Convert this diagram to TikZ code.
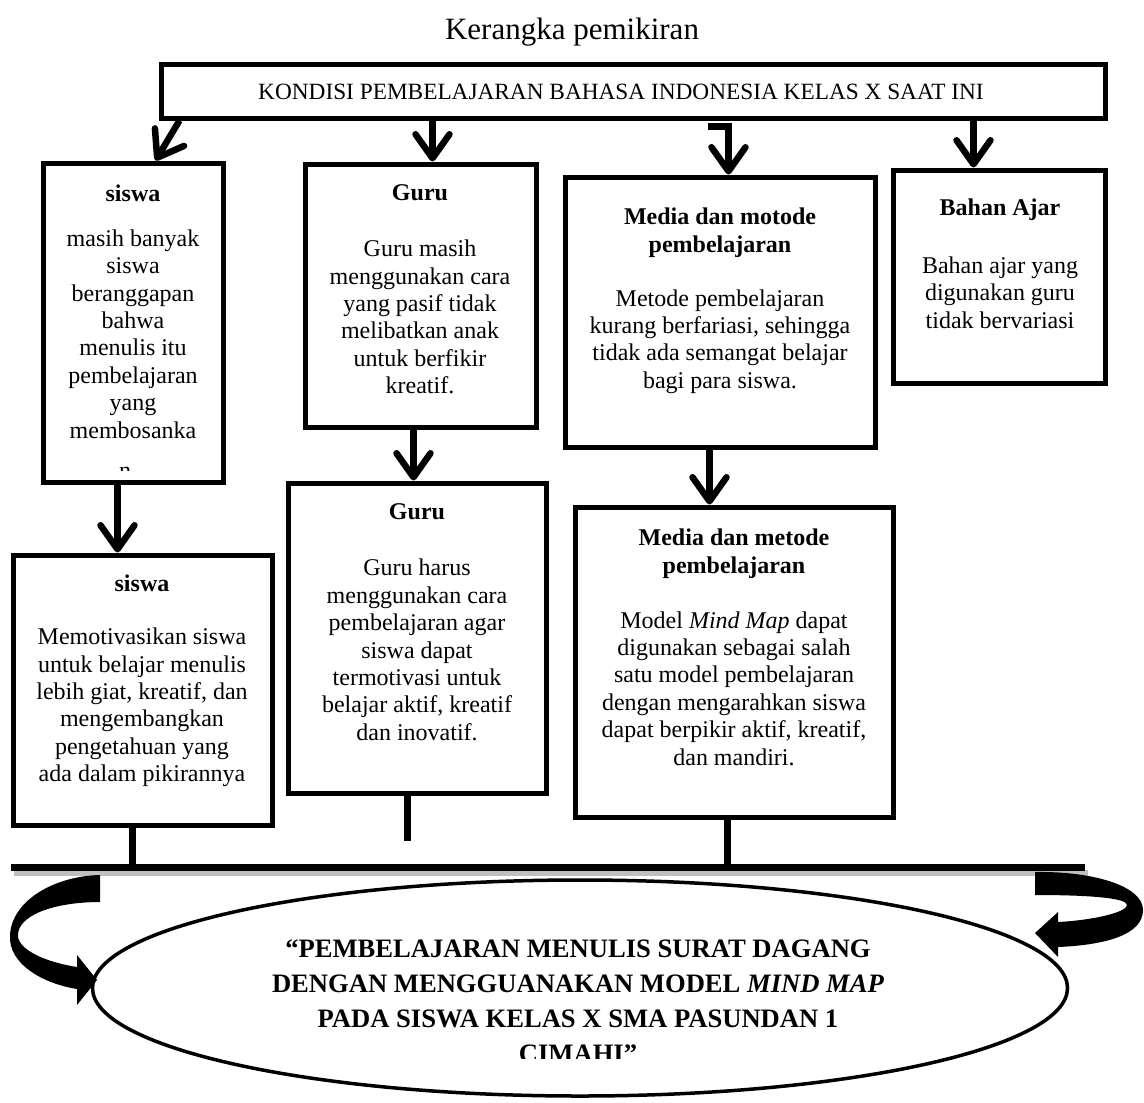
\documentclass[tikz,border=0pt]{standalone}
\usepackage{fontspec}
\setmainfont{Liberation Serif}
\usetikzlibrary{arrows.meta,fit,shapes.geometric}
\begin{document}
\begin{tikzpicture}[x=0.5pt,y=-0.5pt,
  box/.style={draw,line width=2.5pt,inner sep=0pt,rectangle},
  body/.style={align=center,inner sep=0pt,font=\fontsize{12}{13.7}\selectfont},
  head/.style={align=center,inner sep=0pt,font=\fontsize{12}{14.2}\selectfont\bfseries},
  arr/.style={line width=3.25pt,-{Straight Barb[length=12pt,width=17pt,round]}},
  stub/.style={line width=3.5pt},
  barline/.style={line width=3.5pt},
  shadowline/.style={line width=3pt,black!25},
  curved/.style={fill=black},
]
\useasboundingbox (0,0) rectangle (1144,1102);

% title
\node[font=\fontsize{15.5}{18}\selectfont] (title) at (572,32) {Kerangka pemikiran};

% top box
\node[box,fit={(161,65) (1105,118)}] (T) {};
\node[font=\fontsize{11.65}{14}\selectfont] (Tt) at (621,92) {KONDISI PEMBELAJARAN BAHASA INDONESIA KELAS X SAAT INI};

% first row boxes
\node[box,fit={(43,163) (223,482)}] (s1) {};
\node[box,fit={(305,164) (536,427)}] (g1) {};
\node[box,fit={(565,177) (875,447)}] (m1) {};
\node[box,fit={(893,170) (1105,383)}] (bh) {};

% second row boxes
\node[box,fit={(13,555) (272,825)}] (s2) {};
\node[box,fit={(288,483) (546,793)}] (g2) {};
\node[box,fit={(575,507) (893,817)}] (m2) {};

% texts first row
\node[head] (s1h) at (133,193) {siswa};
\node[body] (s1b) at (133,334) {masih banyak\\siswa\\beranggapan\\bahwa\\menulis itu\\pembelajaran\\yang\\membosanka};
\begin{scope}
  \clip (100,464) rectangle (160,470.5);
  \node[body,anchor=base] (s1n) at (128,478) {n.};
\end{scope}

\node[head] (g1h) at (420,193) {Guru};
\node[body] (g1b) at (420,317) {Guru masih\\menggunakan cara\\yang pasif tidak\\melibatkan anak\\untuk berfikir\\kreatif.};

\node[head] (m1h) at (720,232.5) {Media dan motode\\pembelajaran};
\node[body] (m1b) at (720,341.5) {Metode pembelajaran\\kurang berfariasi, sehingga\\tidak ada semangat belajar\\bagi para siswa.};

\node[head] (bhh) at (1000,210) {Bahan Ajar};
\node[body] (bhb) at (1000,292.5) {Bahan ajar yang\\digunakan guru\\tidak bervariasi};

% texts second row
\node[head] (s2h) at (142,583) {siswa};
\node[body] (s2b) at (142,707.5) {Memotivasikan siswa\\untuk belajar menulis\\lebih giat, kreatif, dan\\mengembangkan\\pengetahuan yang\\ada dalam pikirannya};

\node[head] (g2h) at (417,512) {Guru};
\node[body] (g2b) at (417,650) {Guru harus\\menggunakan cara\\pembelajaran agar\\siswa dapat\\termotivasi untuk\\belajar aktif, kreatif\\dan inovatif.};

\node[head] (m2h) at (734,554) {Media dan metode\\pembelajaran};
\node[body] (m2b) at (734,688.5) {Model \textit{Mind Map} dapat\\digunakan sebagai salah\\satu model pembelajaran\\dengan mengarahkan siswa\\dapat berpikir aktif, kreatif,\\dan mandiri.};

% arrows from top box
\draw[arr] ([shift={(21,0)}]T.south west) -- ([shift={(115,0)}]s1.north west);
\draw[arr] ([shift={(274,0)}]T.south west) -- ([shift={(130,0)}]g1.north west);
\draw[arr] ([shift={(549,6)}]T.south west) -| ([shift={(166,0)}]m1.north west);
\draw[arr] ([shift={(815,0)}]T.south west) -- ([shift={(83,0)}]bh.north west);

% arrows down
\draw[arr] ([shift={(77,0)}]s1.south west) -- ([shift={(107,0)}]s2.north west);
\draw[arr] ([shift={(111,0)}]g1.south west) -- ([shift={(128,0)}]g2.north west);
\draw[arr] ([shift={(147,0)}]m1.south west) -- ([shift={(137,0)}]m2.north west);

% bottom bar
\coordinate (barL) at (11,867);
\coordinate (barR) at (1085,867);
\draw[shadowline] ([shift={(3,6)}]barL) -- ([shift={(3,6)}]barR);
\draw[barline] (barL) -- (barR);
\draw[stub] ([shift={(122,0)}]s2.south west) -- ([shift={(122,0)}]s2.south west |- barL);
\draw[stub] ([shift={(122,0)}]g2.south west) -- ++(0,45);
\draw[stub] ([shift={(155,0)}]m2.south west) -- ([shift={(155,0)}]m2.south west |- barL);

% ellipse
\node[draw,ellipse,line width=1.75pt,minimum width=487.5pt,minimum height=108pt,inner sep=0pt] (E) at (580,988) {};
\begin{scope}
  \clip (200,900) rectangle (960,1058);
  \node[align=center,inner sep=0pt,font=\fontsize{13.3}{17.5}\selectfont\bfseries] (Et) at (578,1001.5)
    {“PEMBELAJARAN MENULIS SURAT DAGANG\\DENGAN MENGGUANAKAN MODEL \textit{MIND MAP}\\PADA SISWA KELAS X SMA PASUNDAN 1\\CIMAHI”};
\end{scope}

% curved arrows
\fill[curved] (100,875) .. controls (55,876) and (12,900) .. (10,935)
  .. controls (8,965) and (45,984) .. (77,989) -- (77,1005) -- (97,980) -- (77,955) -- (77,967)
  .. controls (45,962) and (20,950) .. (18,937)
  .. controls (16,915) and (55,902) .. (100,902) -- cycle;
\fill[curved] (1035,872) .. controls (1090,871) and (1143,885) .. (1143,910)
  .. controls (1143,935) and (1105,945) .. (1058,947) -- (1058,957) -- (1035,933) -- (1058,912) -- (1058,922)
  .. controls (1095,920) and (1127,912) .. (1127,905)
  .. controls (1127,898) and (1090,895) .. (1035,895) -- cycle;
\end{tikzpicture}
\end{document}
